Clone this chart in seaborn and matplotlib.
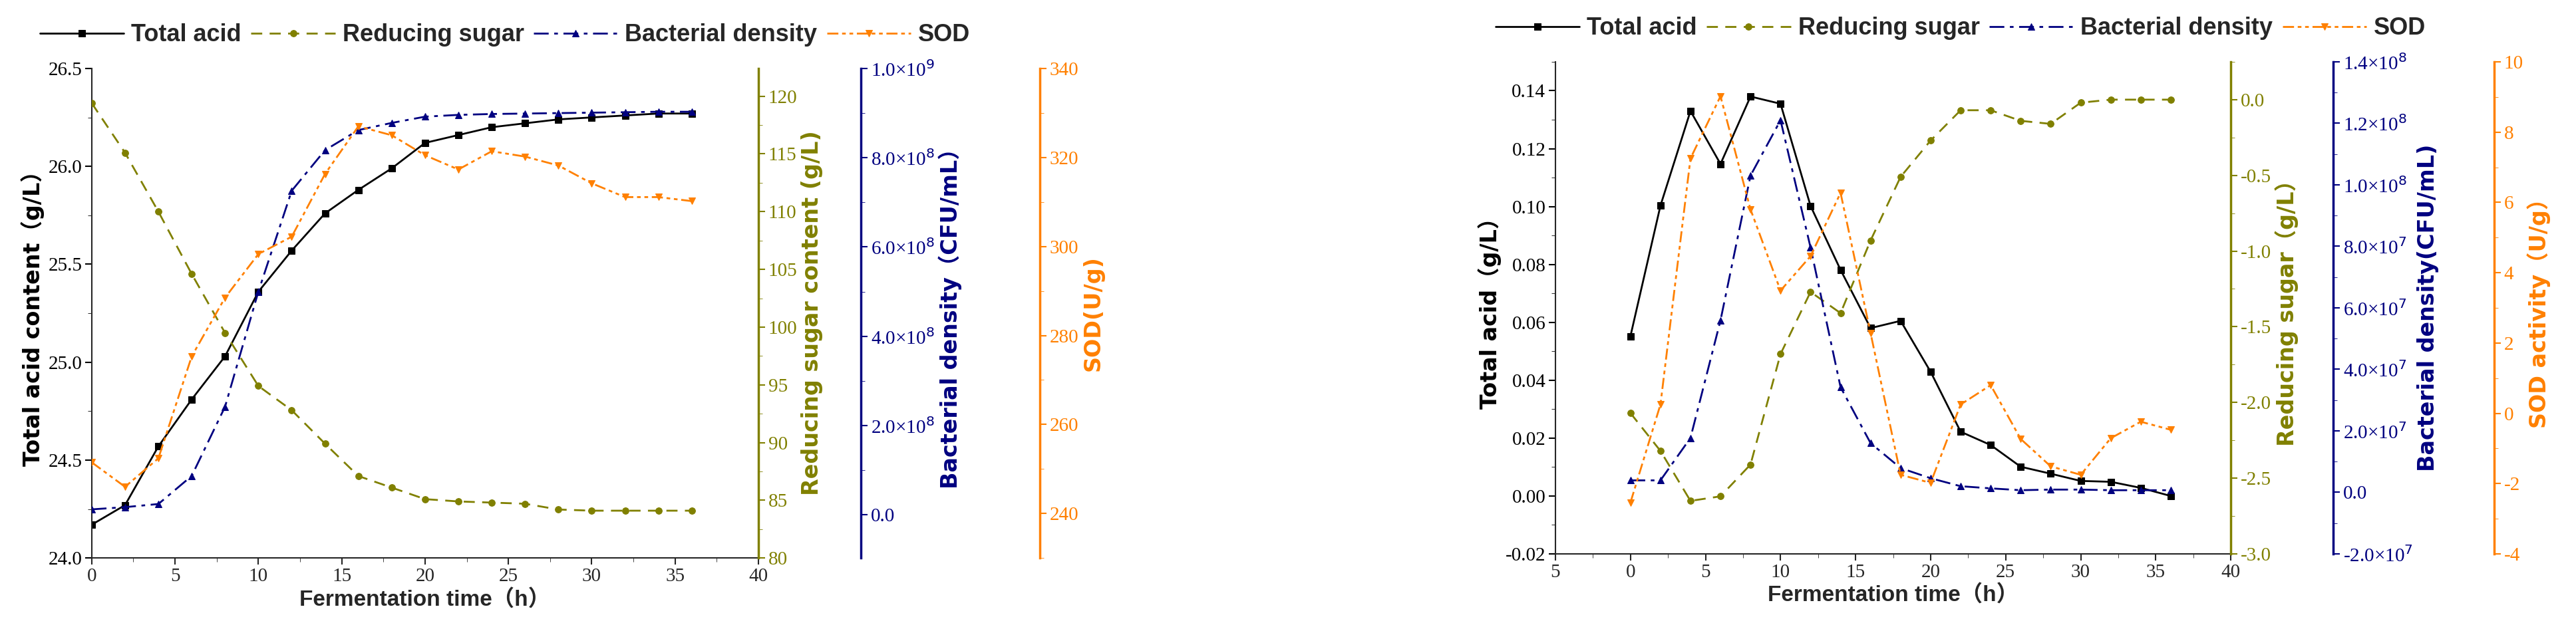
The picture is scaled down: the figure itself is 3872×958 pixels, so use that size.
import numpy as np
import pandas as pd
import seaborn as sns
import matplotlib.pyplot as plt
from matplotlib.ticker import FixedLocator, AutoMinorLocator

sns.set_style("ticks")
plt.rcParams['font.family'] = ['Liberation Serif', 'Noto Sans CJK SC']

hours = list(range(0, 37, 2))

# left panel
acid_a = [24.17, 24.27, 24.57, 24.81, 25.03, 25.36, 25.57, 25.76, 25.88, 25.99,
          26.12, 26.16, 26.20, 26.22, 26.24, 26.25, 26.26, 26.27, 26.27]
sugar_a = [119.4, 115.1, 110.0, 104.6, 99.5, 94.9, 92.8, 89.9, 87.1, 86.1,
           85.1, 84.9, 84.8, 84.7, 84.2, 84.1, 84.1, 84.1, 84.1]
bact_a = [0.12e8, 0.17e8, 0.24e8, 0.87e8, 2.42e8, 5.0e8, 7.26e8, 8.17e8, 8.62e8, 8.78e8,
          8.92e8, 8.96e8, 8.98e8, 8.99e8, 9.0e8, 9.01e8, 9.02e8, 9.03e8, 9.03e8]
sod_a = [251.5, 246.0, 252.4, 275.3, 288.5, 298.3, 302.2, 316.3, 327.0, 325.0,
         320.5, 317.3, 321.4, 320.2, 318.2, 314.2, 311.1, 311.1, 310.2]

# right panel
acid_b = [0.0552, 0.1003, 0.133, 0.1147, 0.138, 0.1355, 0.1002, 0.0781, 0.058, 0.0605,
          0.0429, 0.0222, 0.0176, 0.0101, 0.0077, 0.0052, 0.0049, 0.0028, 0.0]
sugar_b = [-2.07, -2.32, -2.65, -2.62, -2.41, -1.68, -1.27, -1.41, -0.93, -0.51,
           -0.27, -0.07, -0.07, -0.14, -0.16, -0.02, 0.0, 0.0, 0.0]
bact_b = [0.39e7, 0.39e7, 1.77e7, 5.59e7, 10.3e7, 12.1e7, 7.96e7, 3.42e7, 1.6e7, 0.79e7,
          0.46e7, 0.2e7, 0.13e7, 0.07e7, 0.09e7, 0.09e7, 0.07e7, 0.07e7, 0.07e7]
sod_b = [-2.54, 0.25, 7.25, 9.02, 5.8, 3.49, 4.47, 6.27, 2.28, -1.75,
         -1.98, 0.25, 0.8, -0.73, -1.51, -1.75, -0.71, -0.24, -0.47]

names = ['Total acid', 'Reducing sugar', 'Bacterial density', 'SOD']
colors = ['black', '#808000', '#000080', '#FF8000']
markers = ['s', 'o', '^', 'v']
dashes = [(None, None), (6, 4), (8, 3, 2, 3), (6, 2, 2, 2, 2, 2)]

fs_tick = 21
fs_lab = 24
lab_font = dict(fontsize=fs_lab, fontweight='bold', family=['DejaVu Sans', 'Noto Sans CJK SC'])

fig = plt.figure(figsize=(38.72, 9.58), dpi=100)


def panel(rect, series, lims, ticks, ticklabels, labels, offsets, xticklabels, xlim, leg_x):
    ax = fig.add_axes(rect)
    axes = [ax, ax.twinx(), ax.twinx(), ax.twinx()]
    axes[2].spines['right'].set_position(('axes', offsets[0]))
    axes[3].spines['right'].set_position(('axes', offsets[1]))
    handles = []
    for i, a in enumerate(axes):
        df = pd.DataFrame({'t': hours, 'v': series[i]})
        sns.lineplot(data=df, x='t', y='v', ax=a, color=colors[i], marker=markers[i],
                     markersize=7, linewidth=2, markeredgecolor=colors[i])
        ln = a.lines[-1]
        if dashes[i][0] is not None:
            ln.set_dashes(dashes[i])
        handles.append(ln)
        c = 'black' if i == 0 else colors[i]
        a.set_ylim(lims[i])
        a.yaxis.set_major_locator(FixedLocator(ticks[i]))
        a.set_yticklabels(ticklabels[i], fontsize=fs_tick)
        a.yaxis.set_minor_locator(AutoMinorLocator(2))
        a.set_ylabel(labels[i], color=c, **lab_font)
        a.tick_params(axis='y', colors=c, width=1.5, length=7)
        a.tick_params(axis='y', which='minor', colors=c, length=4)
        a.spines['top'].set_visible(False)
        if i > 0:
            a.spines['left'].set_visible(False)
            a.spines['bottom'].set_visible(False)
            a.spines['right'].set_color(colors[i])
            a.spines['right'].set_linewidth(2.5)
        else:
            a.spines['right'].set_visible(False)
        a.set_xlabel('')
    ax.spines['left'].set_linewidth(1.5)
    ax.spines['bottom'].set_linewidth(1.5)
    ax.set_xlim(xlim)
    ax.set_xticks(range(int(xlim[0]), 41, 5))
    ax.set_xticklabels(xticklabels, fontsize=fs_tick)
    ax.xaxis.set_minor_locator(AutoMinorLocator(2))
    ax.tick_params(axis='x', width=1.5, length=7)
    ax.tick_params(axis='x', which='minor', length=4)
    ax.set_xlabel('Fermentation time（h）', fontsize=fs_lab, fontweight='bold',
                  family=['Liberation Sans Narrow', 'Liberation Sans', 'Noto Sans CJK SC'])
    ax.legend(handles, names, loc='lower center', bbox_to_anchor=(leg_x, 1.0), ncol=4,
              frameon=False, handlelength=3.5, columnspacing=0.4, handletextpad=0.3,
              prop=dict(family=['Liberation Sans Narrow', 'Liberation Sans'],
                        weight='bold', size=fs_lab + 2))
    return ax


panel([0.0356, 0.124, 0.2588, 0.7685],
      [acid_a, sugar_a, bact_a, sod_a],
      [(24.0, 26.5), (80, 122.4), (-0.97e8, 1.0e9), (230, 340)],
      [np.arange(24.0, 26.51, 0.5), np.arange(80, 121, 5),
       [0, 2e8, 4e8, 6e8, 8e8, 1e9], np.arange(240, 341, 20)],
      [[f'{v:.1f}' for v in np.arange(24.0, 26.51, 0.5)],
       [str(v) for v in range(80, 121, 5)],
       ['0.0', '2.0×10$^8$', '4.0×10$^8$', '6.0×10$^8$', '8.0×10$^8$', '1.0×10$^9$'],
       [str(v) for v in range(240, 341, 20)]],
      ['Total acid content（g/L）', 'Reducing sugar content (g/L)',
       'Bacterial density（CFU/mL）', 'SOD(U/g)'],
      (1.154, 1.422),
      [str(v) for v in range(0, 41, 5)], (0, 40), 0.62)

panel([0.6038, 0.1305, 0.2622, 0.7725],
      [acid_b, sugar_b, bact_b, sod_b],
      [(-0.02, 0.15), (-3.0, 0.25), (-2e7, 1.4e8), (-4, 10)],
      [np.arange(-0.02, 0.141, 0.02), np.arange(-3.0, 0.01, 0.5),
       [-2e7, 0, 2e7, 4e7, 6e7, 8e7, 1e8, 1.2e8, 1.4e8], np.arange(-4, 11, 2)],
      [[f'{v:.2f}' for v in np.arange(-0.02, 0.141, 0.02)],
       [f'{v:.1f}' for v in np.arange(-3.0, 0.01, 0.5)],
       ['-2.0×10$^7$', '0.0', '2.0×10$^7$', '4.0×10$^7$', '6.0×10$^7$', '8.0×10$^7$',
        '1.0×10$^8$', '1.2×10$^8$', '1.4×10$^8$'],
       [str(v) for v in range(-4, 11, 2)]],
      ['Total acid（g/L）', 'Reducing sugar（g/L）',
       'Bacterial density(CFU/mL)', 'SOD activity（U/g）'],
      (1.152, 1.39),
      ['5'] + [str(v) for v in range(0, 41, 5)], (-5, 40), 0.6)

fig.savefig('out.png', dpi=100)
